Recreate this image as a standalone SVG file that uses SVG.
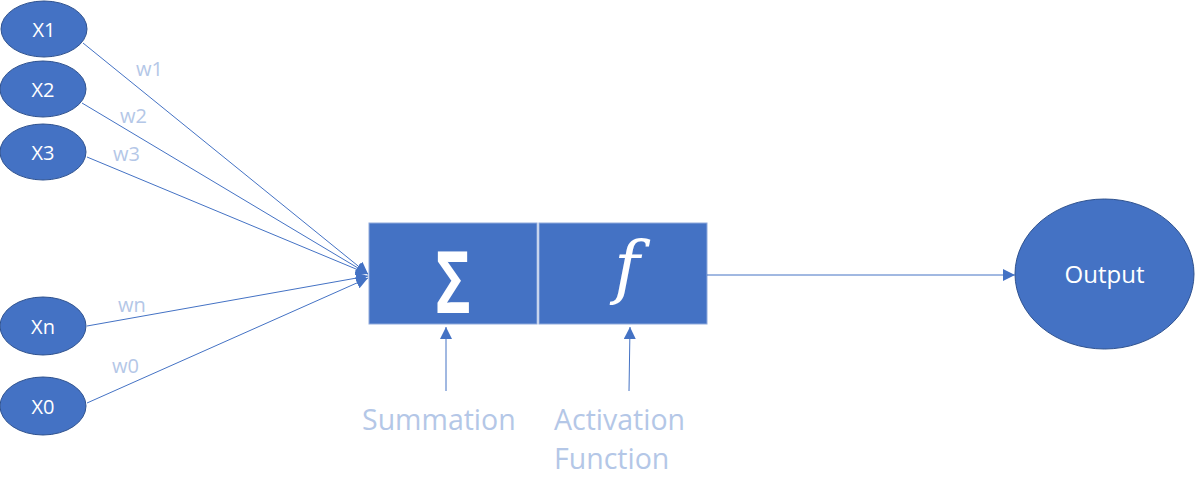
<svg xmlns="http://www.w3.org/2000/svg" width="1195" height="499" viewBox="0 0 1195 499">
<style>
.node{fill:#4472C4;stroke:#2F528F;stroke-width:1}
.box{fill:#4472C4;stroke:#8FAADC;stroke-width:1}
.lbl{font-family:"Open Sans","Liberation Sans",sans-serif;fill:#fff;text-anchor:middle}
.w{font-family:"Open Sans","Liberation Sans",sans-serif;fill:#B4C7E7;font-size:20px}
.cap{font-family:"Open Sans","Liberation Sans",sans-serif;fill:#B4C7E7;font-size:28.5px}
.conn line{stroke:#4472C4;stroke-width:1}
</style>
<defs>
<marker id="ah" markerUnits="userSpaceOnUse" markerWidth="12" markerHeight="12" refX="12" refY="6" orient="auto">
<path d="M0,0 L12,6 L0,12 Z" fill="#4472C4"/>
</marker>
</defs>
<rect width="1195" height="499" fill="#fff"/>
<g id="x1"><ellipse class="node" cx="44" cy="29" rx="43" ry="28"/><text class="lbl" x="44" y="37" font-size="20">X1</text></g>
<g id="x2"><ellipse class="node" cx="43" cy="89" rx="43" ry="28"/><text class="lbl" x="43" y="97" font-size="20">X2</text></g>
<g id="x3"><ellipse class="node" cx="43" cy="152" rx="43" ry="28"/><text class="lbl" x="43" y="160" font-size="20">X3</text></g>
<g id="xn"><ellipse class="node" cx="43" cy="326" rx="43" ry="29"/><text class="lbl" x="43" y="334" font-size="20">Xn</text></g>
<g id="x0"><ellipse class="node" cx="43" cy="406" rx="43" ry="29"/><text class="lbl" x="43" y="414" font-size="20">X0</text></g>
<g id="sum"><rect class="box" x="369" y="223" width="168" height="101"/><text x="453" y="313" font-family="'Open Sans',sans-serif" font-weight="bold" font-size="86" fill="#fff" text-anchor="middle" transform="translate(453 0) scale(0.7 1) translate(-453 0)">Σ</text></g>
<g id="act"><rect class="box" x="539" y="223" width="168" height="101"/><text x="627" y="291" font-family="'DejaVu Serif',serif" font-style="italic" font-size="70" fill="#fff" text-anchor="middle">f</text></g>
<g id="output"><ellipse class="node" cx="1104.5" cy="274" rx="89.5" ry="75"/><text class="lbl" x="1104.5" y="283" font-size="24">Output</text></g>
<g id="labels">
<text class="w" x="136" y="76">w1</text>
<text class="w" x="120" y="123">w2</text>
<text class="w" x="113" y="161">w3</text>
<text class="w" x="118" y="312">wn</text>
<text class="w" x="112" y="373">w0</text>
<text class="cap" x="362" y="430">Summation</text>
<text class="cap" x="554" y="430">Activation</text>
<text class="cap" x="554" y="469">Function</text>
</g>
<g class="conn" id="connectors">
<line x1="83" y1="43" x2="368" y2="274" marker-end="url(#ah)"/>
<line x1="82" y1="103" x2="368" y2="274" marker-end="url(#ah)"/>
<line x1="87" y1="157" x2="368" y2="274" marker-end="url(#ah)"/>
<line x1="87" y1="326" x2="368" y2="276" marker-end="url(#ah)"/>
<line x1="87" y1="403" x2="368" y2="278" marker-end="url(#ah)"/>
<line x1="707" y1="275" x2="1015" y2="275" marker-end="url(#ah)"/>
<line x1="446" y1="391" x2="446" y2="327" marker-end="url(#ah)"/>
<line x1="629" y1="391" x2="630" y2="327" marker-end="url(#ah)"/>
</g>
</svg>
